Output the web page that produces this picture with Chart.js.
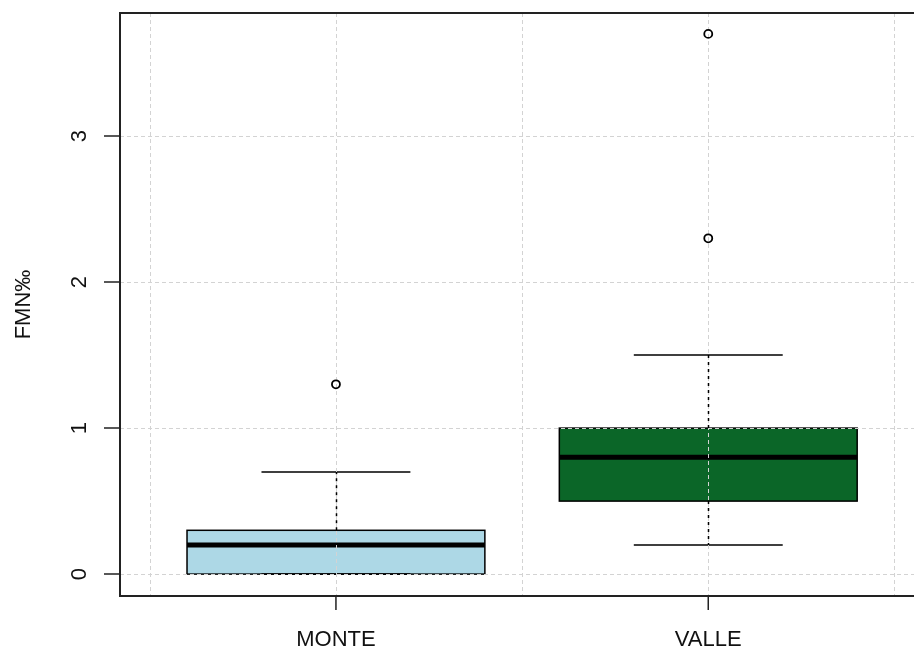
<!DOCTYPE html>
<html>
<head>
<meta charset="utf-8">
<script src="https://cdn.jsdelivr.net/npm/chart.js@4"></script>
<style>
    html, body { margin: 0; padding: 0; background: #fff; }
    #wrap { width: 914px; height: 648px; overflow: hidden; }
</style>
</head>
<body>
<div id="wrap"><canvas id="boxChart" width="930" height="648"></canvas></div>
<script>
// --- Data ---
const categories = ['MONTE', 'VALLE'];
const lowerWhisker = [0, 0.2];
const q1 = [0, 0.5];
const median = [0.2, 0.8];
const q3 = [0.3, 1.0];
const upperWhisker = [0.7, 1.5];
const outliers = [[1.3], [2.3, 3.7]];
const yTicks = [0, 1, 2, 3];
const boxColors = ['#ADD8E6', '#0B6628'];
const yTitle = 'FMN\u2030';

const FONT = '22px "Liberation Sans", Arial, sans-serif';

// scatter points for the outliers, placed at category positions 1, 2, ...
const outlierPoints = [];
outliers.forEach((vals, i) => {
    vals.forEach(v => outlierPoints.push({ x: i + 1, y: v }));
});

const boxPlugin = {
    id: 'boxPlugin',
    beforeDatasetsDraw(chart) {
        const ctx = chart.ctx;
        const xs = chart.scales.x;
        const ys = chart.scales.y;
        const area = chart.chartArea;

        ctx.save();
        // boxes, staples and medians
        categories.forEach((cat, i) => {
            const c = i + 1;
            const bl = xs.getPixelForValue(c - 0.4);
            const br = xs.getPixelForValue(c + 0.4);
            const sl = xs.getPixelForValue(c - 0.2);
            const sr = xs.getPixelForValue(c + 0.2);
            const yq1 = ys.getPixelForValue(q1[i]);
            const yq3 = ys.getPixelForValue(q3[i]);

            ctx.fillStyle = boxColors[i];
            ctx.fillRect(bl, yq3, br - bl, yq1 - yq3);
            ctx.strokeStyle = '#000';
            ctx.lineWidth = 1.5;
            ctx.setLineDash([]);
            ctx.strokeRect(bl, yq3, br - bl, yq1 - yq3);

            ctx.beginPath();
            [upperWhisker[i], lowerWhisker[i]].forEach(v => {
                const y = ys.getPixelForValue(v);
                ctx.moveTo(sl, y);
                ctx.lineTo(sr, y);
            });
            ctx.stroke();

            ctx.lineWidth = 5;
            ctx.beginPath();
            const ym = ys.getPixelForValue(median[i]);
            ctx.moveTo(bl, ym);
            ctx.lineTo(br, ym);
            ctx.stroke();
        });

        // grid drawn on top of the boxes, as in the original
        ctx.strokeStyle = '#D3D3D3';
        ctx.lineWidth = 1;
        ctx.setLineDash([4, 3]);
        ctx.beginPath();
        for (let g = 0.5; g <= 2.5; g += 0.5) {
            const x = Math.round(xs.getPixelForValue(g)) + 0.5;
            ctx.moveTo(x, area.top);
            ctx.lineTo(x, area.bottom);
        }
        yTicks.forEach(t => {
            const y = Math.round(ys.getPixelForValue(t)) + 0.5;
            ctx.moveTo(area.left, y);
            ctx.lineTo(area.right, y);
        });
        ctx.stroke();

        // dashed whisker lines
        ctx.strokeStyle = '#000';
        ctx.lineWidth = 1.5;
        ctx.setLineDash([3, 4]);
        ctx.beginPath();
        categories.forEach((cat, i) => {
            const cx = Math.round(xs.getPixelForValue(i + 1)) + 0.5;
            ctx.moveTo(cx, ys.getPixelForValue(q3[i]));
            ctx.lineTo(cx, ys.getPixelForValue(upperWhisker[i]));
            ctx.moveTo(cx, ys.getPixelForValue(q1[i]));
            ctx.lineTo(cx, ys.getPixelForValue(lowerWhisker[i]));
        });
        ctx.stroke();

        // frame
        ctx.setLineDash([]);
        ctx.strokeStyle = '#222';
        ctx.lineWidth = 2;
        ctx.strokeRect(area.left, area.top, area.right - area.left, area.bottom - area.top);

        // axis ticks and labels
        ctx.lineWidth = 1.5;
        ctx.fillStyle = '#111';
        ctx.font = FONT;
        ctx.beginPath();
        yTicks.forEach(t => {
            const y = ys.getPixelForValue(t);
            ctx.moveTo(area.left, y);
            ctx.lineTo(area.left - 16, y);
        });
        categories.forEach((cat, i) => {
            const x = xs.getPixelForValue(i + 1);
            ctx.moveTo(x, area.bottom);
            ctx.lineTo(x, area.bottom + 14);
        });
        ctx.stroke();

        ctx.textAlign = 'center';
        ctx.textBaseline = 'alphabetic';
        categories.forEach((cat, i) => {
            ctx.fillText(cat, xs.getPixelForValue(i + 1), 646);
        });

        yTicks.forEach(t => {
            ctx.save();
            ctx.translate(86, ys.getPixelForValue(t));
            ctx.rotate(-Math.PI / 2);
            ctx.fillText(String(t), 0, 0);
            ctx.restore();
        });

        ctx.save();
        ctx.translate(30, (area.top + area.bottom) / 2);
        ctx.rotate(-Math.PI / 2);
        ctx.fillText(yTitle, 0, 0);
        ctx.restore();

        ctx.restore();
    }
};

new Chart(document.getElementById('boxChart'), {
    type: 'scatter',
    data: {
        datasets: [{
            label: 'outliers',
            data: outlierPoints,
            pointStyle: 'circle',
            pointRadius: 4,
            pointBorderWidth: 1.8,
            borderColor: '#000',
            backgroundColor: 'rgba(0,0,0,0)',
            pointHoverRadius: 4
        }]
    },
    options: {
        responsive: false,
        animation: false,
        devicePixelRatio: 1,
        layout: { padding: { left: 120, top: 13, right: 4, bottom: 52 } },
        plugins: { legend: { display: false }, tooltip: { enabled: false } },
        scales: {
            x: { type: 'linear', min: 0.42, max: 2.58, display: false },
            y: { type: 'linear', min: -0.15, max: 3.843, display: false }
        }
    },
    plugins: [boxPlugin]
});
</script>
</body>
</html>
